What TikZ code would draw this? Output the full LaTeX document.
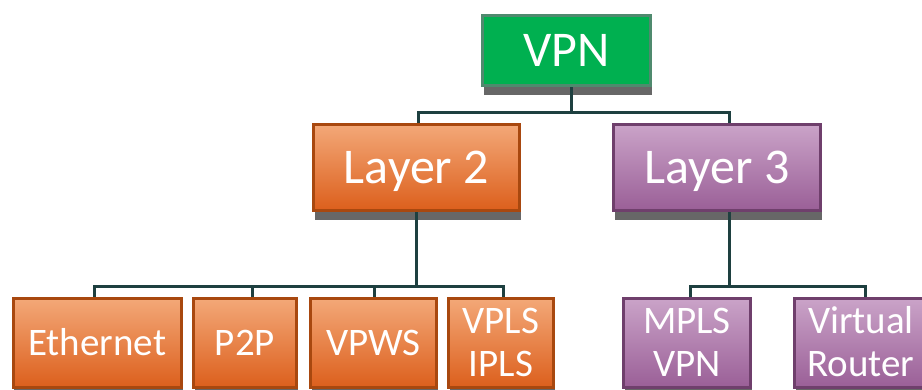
\documentclass[tikz,border=0pt]{standalone}
\usepackage{fontspec}
\setmainfont{Carlito}
\usetikzlibrary{shadows}
\definecolor{vpngreen}{HTML}{00B050}
\definecolor{vpnborder}{HTML}{4F8A6E}
\definecolor{orTop}{HTML}{F3A878}
\definecolor{orBot}{HTML}{DC5F1C}
\definecolor{orBorder}{HTML}{A8480F}
\definecolor{puTop}{HTML}{CAA3C8}
\definecolor{puBot}{HTML}{9A5F97}
\definecolor{puBorder}{HTML}{6F3F6C}
\definecolor{shadowgray}{HTML}{676767}
\definecolor{conncol}{HTML}{1E4040}
\tikzset{
  boxbase/.style={rectangle, line width=3pt, text=white, inner sep=0pt,
    copy shadow={shadow xshift=1pt, shadow yshift=-9pt, fill=shadowgray, draw=none}},
  bigtext/.style={font=\fontsize{50}{54}\selectfont, text height=31.6pt, text depth=0pt},
  smalltext/.style={font=\fontsize{39}{43}\selectfont, text height=24.6pt, text depth=0pt},
  twotext/.style={font=\fontsize{39}{43}\selectfont, align=center, text height=67.6pt, text depth=0pt},
  greenbox/.style={boxbase, fill=vpngreen, draw=vpnborder},
  orangebox/.style={boxbase, draw=orBorder, top color=orTop, bottom color=orBot},
  purplebox/.style={boxbase, draw=puBorder, top color=puTop, bottom color=puBot},
  conn/.style={draw=conncol, line width=3pt}
}
\begin{document}
\begin{tikzpicture}[x=1pt,y=-1pt]
\useasboundingbox (0,0) rectangle (922,389);
\clip (0,0) rectangle (922,389);
% boxes
\node[greenbox, bigtext, minimum width=168pt, minimum height=70pt] (vpn) at (566.5,50.5) {VPN};
\node[orangebox, bigtext, minimum width=206pt, minimum height=86pt] (l2) at (416.5,167.5) {Layer 2};
\node[purplebox, bigtext, minimum width=207pt, minimum height=86pt] (l3) at (717,167.5) {Layer 3};
\node[orangebox, smalltext, minimum width=168.5pt, minimum height=89pt] (eth) at (97.25,343) {Ethernet};
\node[orangebox, smalltext, minimum width=103pt, minimum height=89pt] (p2p) at (245,343) {P2P};
\node[orangebox, smalltext, minimum width=126pt, minimum height=89pt] (vpws) at (373.5,343) {VPWS};
\node[orangebox, twotext, minimum width=105pt, minimum height=89pt] (vpls) at (501,343) {VPLS\\IPLS};
\node[purplebox, twotext, minimum width=127pt, minimum height=89pt] (mpls) at (687,343) {MPLS\\VPN};
\node[purplebox, twotext, minimum width=133pt, minimum height=89pt] (vr) at (861,343) {Virtual\\Router};
% connectors
\draw[conn] ([xshift=4.5pt]vpn.south) -- ++(0,25.5) coordinate (b1);
\draw[conn] ([xshift=1.5pt]l2.north) |- (b1) -| ([xshift=12pt]l3.north);
\draw[conn] ([xshift=-0.5pt]l2.south) -- ++(0,74.5) coordinate (b2);
\draw[conn] ([xshift=-3pt]eth.north) |- (b2) -| ([xshift=2pt]vpls.north);
\draw[conn] ([xshift=7.5pt]p2p.north) -- ([xshift=7.5pt]p2p.north |- b2);
\draw[conn] ([xshift=0.5pt]vpws.north) -- ([xshift=0.5pt]vpws.north |- b2);
\draw[conn] ([xshift=12pt]l3.south) -- ++(0,74.5) coordinate (b3);
\draw[conn] ([xshift=3.5pt]mpls.north) |- (b3) -| ([xshift=4pt]vr.north);
\end{tikzpicture}
\end{document}
